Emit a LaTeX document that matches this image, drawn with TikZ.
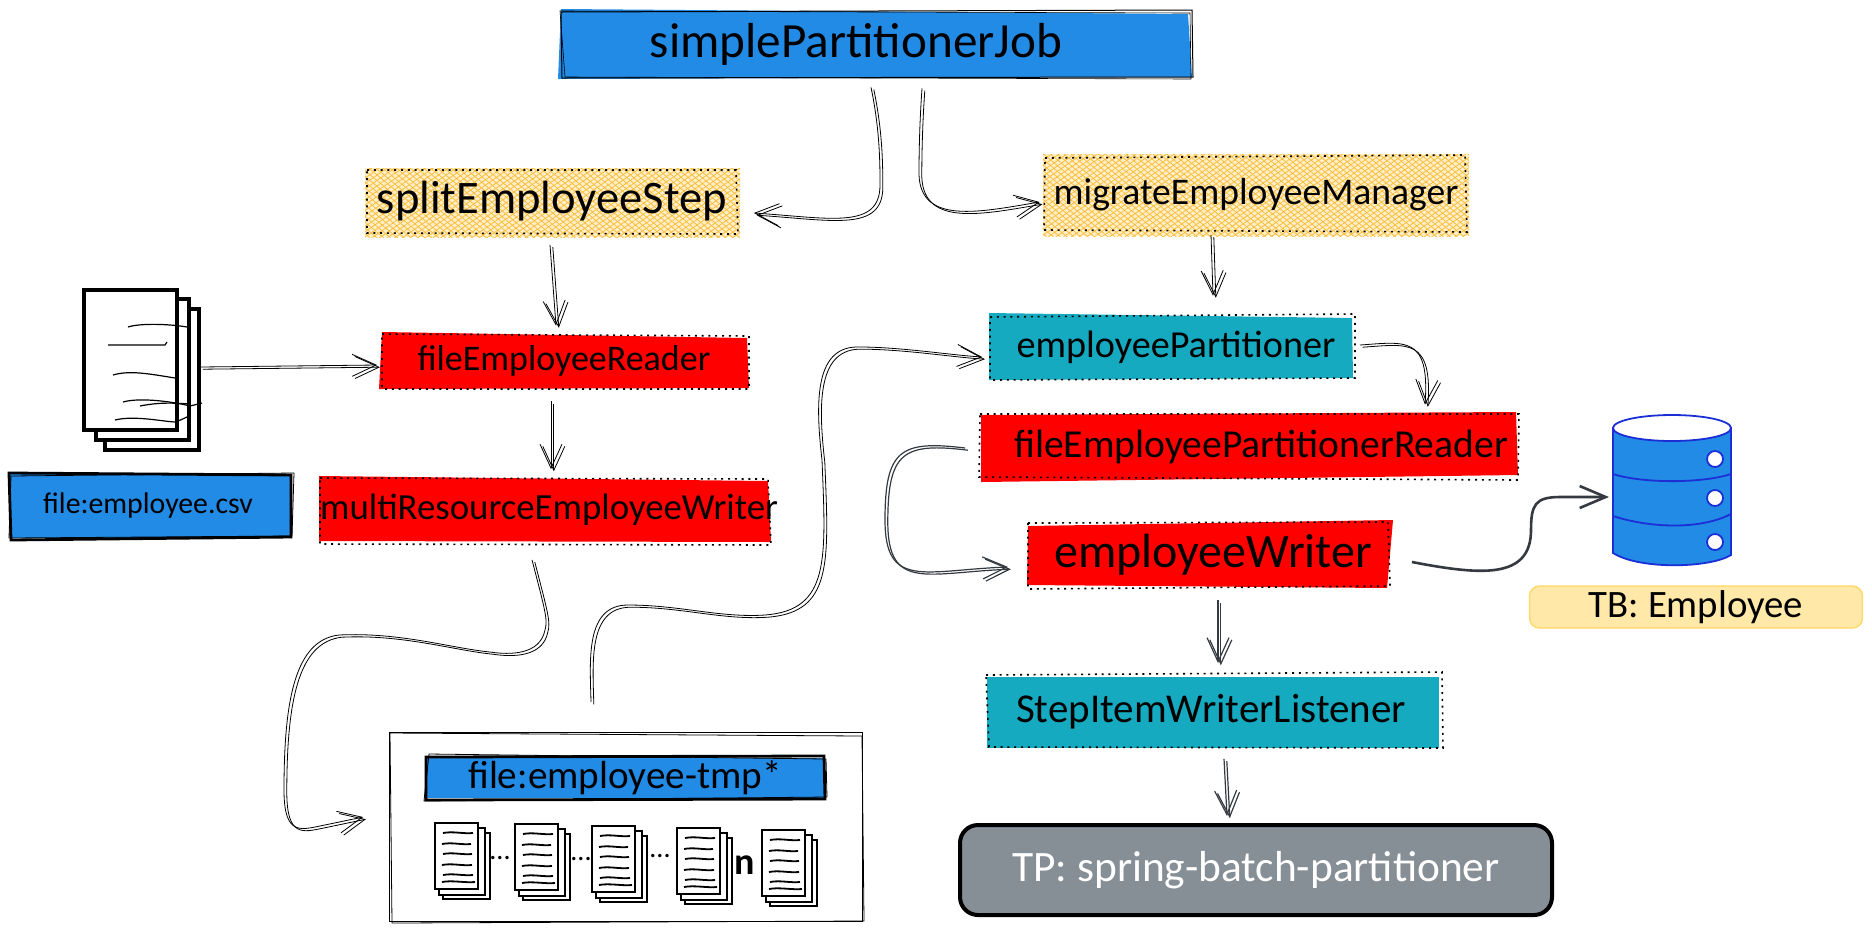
\documentclass[tikz,border=0pt]{standalone}
\usepackage{fontspec}
\setmainfont{Carlito}
\usetikzlibrary{arrows.meta,patterns.meta}
\definecolor{jobblue}{HTML}{228BE6}
\definecolor{tealbox}{HTML}{15AABF}
\definecolor{hatchbase}{HTML}{FFEEC8}
\definecolor{hatchline}{HTML}{FABB30}
\definecolor{tpgrey}{HTML}{868E96}
\definecolor{tbyellow}{HTML}{FFE8A8}
\definecolor{tbedge}{HTML}{FFD866}
\definecolor{dbedge}{HTML}{1C2FD6}
\definecolor{darkline}{HTML}{343A40}
\tikzset{
  lab/.style={font=\fontsize{#1}{#1}\selectfont},
  boxsize/.style n args={2}{rectangle,inner sep=0pt,minimum width=#1*0.5pt,minimum height=#2*0.5pt},
  dotline/.style={line width=.8pt,dash pattern=on 1pt off 2.4pt},
  hatched/.style={fill=hatchbase,postaction={pattern={Lines[angle=35,distance=2.2pt,line width=.35pt]},pattern color=hatchline},
    postaction={pattern={Lines[angle=-40,distance=2.2pt,line width=.35pt]},pattern color=hatchline}},
  sketchtip/.style={-{Straight Barb[length=#1,width=11pt]}},
  sketch/.style={draw=black,line width=.4pt,sketchtip=12pt,
    postaction={draw,transform canvas={shift={(1.4pt,-1.1pt)}}}},
  sketchdark/.style={draw=darkline,line width=.6pt,sketchtip=12pt,
    postaction={draw,transform canvas={shift={(1.4pt,-1.1pt)}}}},
  smalldocs/.pic={
    \draw[line width=1.2pt,fill=white] (8,10) rectangle (55,76);
    \draw[line width=1.2pt,fill=white] (4,5) rectangle (50,72);
    \draw[line width=1.4pt,fill=white] (0,0) rectangle (43,66);
    \foreach \y/\a/\b in {10/8/38,21/7/36,31/8/37,42/7/37,52/8/38,59/7/40}
      \draw[line width=.9pt] (\a,\y) .. controls (\a+10,\y-2) and (\b-10,\y+1) .. (\b,\y);
  },
}
\begin{document}
\begin{tikzpicture}[x=0.5pt,y=-0.5pt]
  \useasboundingbox (0,0) rectangle (1872,944);

  % box fills
  \fill[jobblue] (561,9) -- (1188,14) -- (1192,77) -- (558,79) -- cycle;
  \fill[hatched] (365,168) -- (740,168) -- (740,237) -- (365,237) -- cycle;
  \fill[hatched] (1043,154) -- (1469,154) -- (1469,236) -- (1043,236) -- cycle;
  \fill[red] (382,332) -- (747,338) -- (749,388) -- (379,389) -- cycle;
  \fill[red] (319,476) -- (768,481) -- (771,542) -- (319,541) -- cycle;
  \fill[tealbox] (989,313) -- (1352,318) -- (1353,378) -- (989,380) -- cycle;
  \fill[red] (981,415) -- (1516,412) -- (1518,475) -- (981,482) -- cycle;
  \fill[red] (1028,526) -- (1393,520) -- (1387,588) -- (1027,585) -- cycle;
  \fill[tealbox] (987,677) -- (1439,677) -- (1439,748) -- (987,748) -- cycle;
  \fill[jobblue] (10,474) -- (292,474) -- (292,538) -- (10,538) -- cycle;
  \fill[jobblue] (425,758) -- (825,758) -- (825,798) -- (425,798) -- cycle;

  % nodes
  \node[boxsize={632}{70},lab=24.6] (job) at (876,44) {\raisebox{-1.5pt}{simplePartitionerJob}\hspace*{20pt}};
  \node[boxsize={371}{67},lab=23.3] (split) at (552,201) {\raisebox{1pt}{splitEmployeeStep}};
  \node[boxsize={422}{77},lab=18.8] (manager) at (1256,195) {migrateEmployeeManager};
  \node[boxsize={369}{56},lab=18] (reader) at (564,361) {fileEmployeeReader};
  \node[boxsize={452}{65},lab=18.4] (multi) at (545,510) {\hspace{4pt}multiResourceEmployeeWriter};
  \node[boxsize={365}{66},lab=19.1] (partitioner) at (1171,347) {\hspace{5pt}employeePartitioner};
  \node[boxsize={537}{68},lab=19.8] (partreader) at (1249,447) {\hspace{12pt}fileEmployeePartitionerReader};
  \node[boxsize={365}{66},lab=24] (writer) at (1209,555) {\hspace{4pt}employeeWriter};
  \node[boxsize={452}{73},lab=20.5] (listener) at (1213,712) {StepItemWriterListener\hspace*{2pt}};
  \node[boxsize={592}{90},rounded corners=9pt,draw=black,line width=2pt,fill=tpgrey,text=white,lab=21.7] (tp) at (1256,870) {TP: spring-batch-partitioner};
  \node[boxsize={333}{42},rounded corners=5pt,draw=tbedge,line width=.7pt,fill=tbyellow,lab=19.4] (tb) at (1696,607) {\raisebox{2pt}{TB: Employee}};
  \node[boxsize={282}{66},lab=14.9] (csv) at (151,506) {file:employee.csv\hspace*{3pt}};
  \node[boxsize={473}{189},draw=black,line width=.4pt] (tmpbox) at (626,827) {};
  \node[boxsize={400}{44},lab=19.6] (tmpname) at (625,778) {file:employee-tmp*};
  \coordinate (stack) at (200,367);
  \coordinate (db) at (1609,497);

  % dotted edges
  \draw[dotline] (367,170) -- (736,170) -- (738,234) -- (367,233) -- cycle;
  \draw[dotline] (1045,158) -- (1465,155) -- (1467,232) -- (1044,230) -- cycle;
  \draw[dotline] (382,334) -- (749,336) -- (749,389) -- (382,389) -- cycle;
  \draw[dotline] (320,478) -- (768,479) -- (771,545) -- (320,544) -- cycle;
  \draw[dotline] (990,317) -- (1355,314) -- (1355,378) -- (990,380) -- cycle;
  \draw[dotline] (980,414) -- (1519,414) -- (1518,480) -- (979,477) -- cycle;
  \draw[dotline] (1028,523) -- (1388,522) -- (1390,586) -- (1028,589) -- cycle;
  \draw[dotline] (986,675) -- (1442,672) -- (1443,748) -- (989,747) -- cycle;

  % rough outlines
  \draw[line width=.5pt] (561,12) -- (1192,10) -- (1193,77) -- (562,78) -- cycle;
  \draw[line width=.3pt] (560,11) -- (1190,13) -- (1191,79) -- (565,77) -- cycle;
  \draw[line width=1.4pt] (9,473) -- (291,475) -- (291,537) -- (11,540) -- cycle;
  \draw[line width=.4pt] (11,476) -- (294,473) -- (292,536) -- (9,538) -- cycle;
  \draw[line width=1.4pt] (426,757) -- (824,756) -- (825,799) -- (426,800) -- cycle;
  \draw[line width=.4pt] (429,754) -- (826,759) -- (827,797) -- (424,801) -- cycle;
  \draw[line width=.4pt] (390,733) -- (862,736) -- (864,921) -- (392,923) -- cycle;

  % file stack on the left
  \draw[line width=1.6pt,fill=white] (105,309) rectangle (199,450);
  \draw[line width=1.6pt,fill=white] (96,299) rectangle (189,440);
  \draw[line width=1.6pt,fill=white] (84,290) rectangle (177,430);
  \draw[line width=.6pt] (128,327) .. controls (140,323) and (170,324) .. (187,327);
  \draw[line width=.6pt] (108,345) -- (165,345) -- (167,342);
  \draw[line width=.6pt] (113,375) .. controls (130,370) and (150,374) .. (175,378);
  \draw[line width=.6pt] (123,402) .. controls (140,397) and (175,402) .. (190,406) -- (202,403);
  \draw[line width=.6pt] (140,406) .. controls (160,402) and (175,403) .. (190,404);
  \draw[line width=.6pt] (115,420) .. controls (135,415) and (165,422) .. (176,422) -- (187,417);

  % tmp file stacks
  \path (435,823) pic {smalldocs};
  \path (515,824) pic {smalldocs};
  \path (592,826) pic {smalldocs};
  \path (677,828) pic {smalldocs};
  \path (762,830) pic {smalldocs};
  \node[lab=14] (dotsa) at (500,858) {...};
  \node[lab=14] (dotsb) at (581,859) {...};
  \node[lab=14] (dotsc) at (660,856) {...};
  \node[lab=19] (count) at (745,865) {\bfseries n};

  % database
  \draw[dbedge,line width=.9pt,fill=jobblue] (1613,428) -- (1613,553) .. controls (1640,570) and (1710,568) .. (1731,555) -- (1731,428) -- cycle;
  \draw[dbedge,line width=.9pt,fill=white] (1672,428) ellipse (59 and 13);
  \draw[dbedge,line width=.9pt] (1613,474) .. controls (1640,483) and (1700,484) .. (1731,474);
  \draw[dbedge,line width=.9pt] (1613,516) .. controls (1650,528) and (1700,530) .. (1731,514);
  \foreach \y in {459,498,542}
    \draw[dbedge,line width=.9pt,fill=white] (1715,\y) circle (8);

  % connectors
  \draw[sketch] ([shift={(-5,8)}]job.south) .. controls (880,130) and (880,165) .. (880,185) .. controls (880,230) and (830,218) .. ([shift={(16,12)}]split.east);
  \draw[sketch] ([shift={(46,9)}]job.south) .. controls (919,130) and (919,165) .. (919,175) .. controls (921,225) and (980,212) .. ([shift={(-5,7)}]manager.west);
  \draw[sketch] ([shift={(-2,10)}]split.south) -- ([shift={(-8,-7)}]reader.north);
  \draw[sketch] ([shift={(-13,12)}]reader.south) -- ([shift={(6,-8)}]multi.north);
  \draw[sketch] (stack) -- ([shift={(-2,4)}]reader.west);
  \draw[sketch] ([shift={(-13,17)}]multi.south) .. controls (545,610) and (548,620) .. (545,630) .. controls (540,655) and (510,655) .. (490,652) .. controls (450,648) and (400,632) .. (339,635) .. controls (295,640) and (284,700) .. (284,790) .. controls (284,835) and (300,830) .. (320,826) -- ([shift={(-26,-10)}]tmpbox.west);
  \draw[sketch] ([shift={(-35,-30)}]tmpbox.north) .. controls (590,660) and (585,605) .. (628,605) .. controls (680,605) and (720,618) .. (765,615) .. controls (830,610) and (826,560) .. (822,460) .. controls (815,400) and (815,345) .. (860,347) .. controls (900,347) and (950,355) .. ([shift={(-6,10)}]partitioner.west);
  \draw[sketch] ([shift={(-45,1)}]manager.south) -- ([shift={(42,-18)}]partitioner.north);
  \draw[sketch] ([shift={(6,-2)}]partitioner.east) .. controls (1405,342) and (1430,335) .. ([shift={(176,-8)}]partreader.north);
  \draw[sketchdark] ([shift={(-15,1)}]partreader.west) .. controls (900,440) and (885,450) .. (885,520) .. controls (885,590) and (925,570) .. ([shift={(-18,12)}]writer.west);
  \draw[darkline,line width=1.3pt,sketchtip=13pt] ([shift={(20,7)}]writer.east) .. controls (1480,575) and (1531,580) .. (1531,530) .. controls (1531,505) and (1535,497) .. (1560,497) -- (db);
  \draw[sketchdark] ([shift={(9,12)}]writer.south) -- ([shift={(5,-12)}]listener.north);
  \draw[sketchdark] ([shift={(11,10)}]listener.south) -- ([shift={(-29,-7)}]tp.north);
\end{tikzpicture}
\end{document}
